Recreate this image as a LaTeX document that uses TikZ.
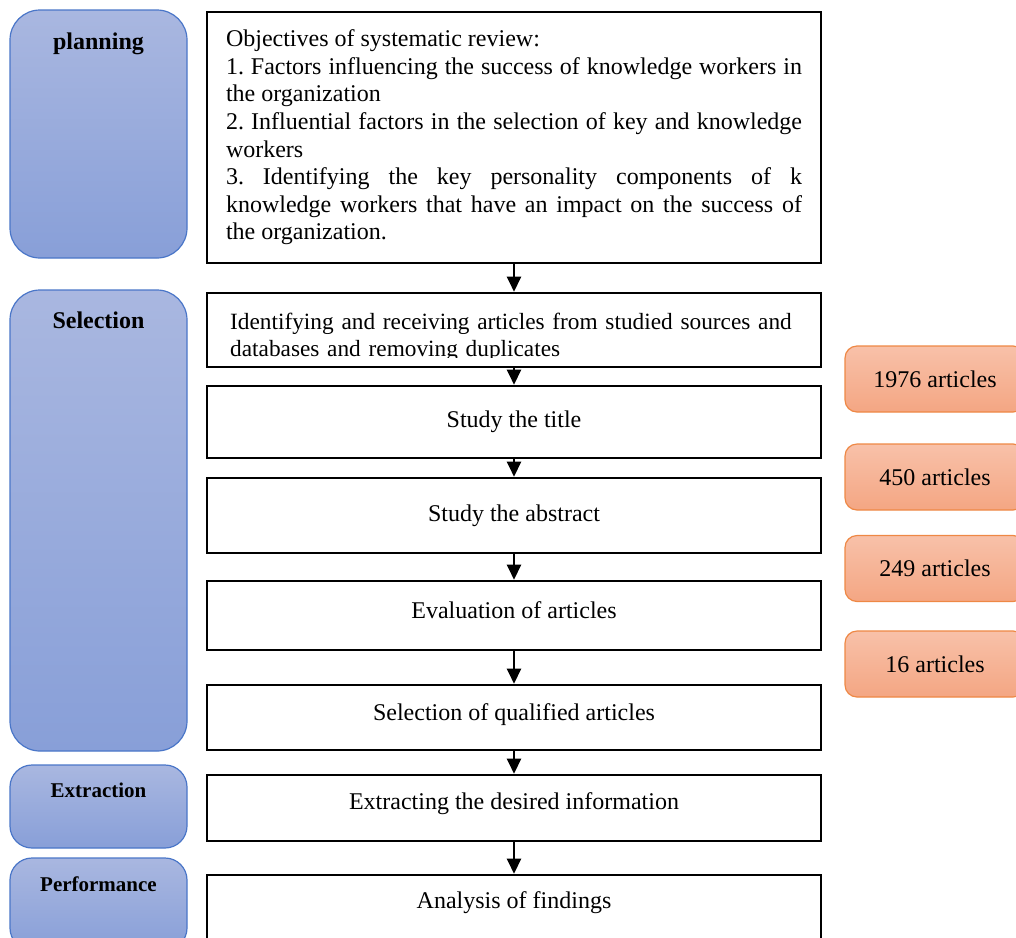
\documentclass[tikz,border=0pt]{standalone}
\usepackage{fontspec}
\setmainfont{Liberation Serif}
\usetikzlibrary{arrows.meta}
\setlength{\parindent}{0pt}
\frenchspacing
\definecolor{phasetop}{HTML}{A9B7E0}
\definecolor{phasebot}{HTML}{889FD8}
\definecolor{phaseline}{HTML}{4A76C8}
\definecolor{counttop}{HTML}{F8C1A9}
\definecolor{countbot}{HTML}{F4A683}
\definecolor{countline}{HTML}{EE8845}

\begin{document}
\begin{tikzpicture}[x=1pt,y=-1pt,
		stepbox/.style={draw=black,line width=2.6pt,minimum width=614pt,inner sep=0pt,font=\fontsize{24}{27.6}\selectfont},
		phasebox/.style={draw=phaseline,line width=1.2pt,rounded corners=30pt,top color=phasetop,bottom color=phasebot,minimum width=177pt},
		phasetitle/.style={font=\bfseries\fontsize{24}{27.6}\selectfont,anchor=north,inner sep=0pt},
		countbox/.style={draw=countline,line width=1.2pt,rounded corners=12pt,top color=counttop,bottom color=countbot,minimum width=180pt,minimum height=66pt,font=\fontsize{24}{27.6}\selectfont},
		flow/.style={line width=2.4pt,-{Triangle[length=15pt,width=14pt]}}]
				\useasboundingbox (0,0) rectangle (1016,937);
				\clip (0,0) rectangle (1016,937);
				% phases on the left
				\node[phasebox,minimum height=248pt] (plan) at (98.5,134) {};
				\node[phasebox,minimum height=461pt] (sel) at (98.5,520.5) {};
				\node[phasebox,minimum height=83pt,rounded corners=22pt] (extr) at (98.5,806.5) {};
				\node[phasebox,minimum height=92pt,rounded corners=22pt] (perf) at (98.5,904) {};
				\node[phasetitle] (tplan) at ([yshift=-23pt]plan.north) {planning};
				\node[phasetitle] (tsel) at ([yshift=-22pt]sel.north) {Selection};
				\node[phasetitle,font=\bfseries\fontsize{21}{24}\selectfont] (textr) at ([yshift=-18pt]extr.north) {Extraction};
				\node[phasetitle,font=\bfseries\fontsize{21}{24}\selectfont] (tperf) at ([yshift=-19pt]perf.north) {Performance};
				% steps
				\node[stepbox,minimum height=251pt,text width=576pt,align=justify] (obj) at (514,137.5) {Objectives of systematic review:\\
					1. Factors influencing the success of knowledge workers in\linebreak the organization\\
					2. Influential factors in the selection of key and knowledge\linebreak workers\\
					3. Identifying the key personality components of k\linebreak knowledge workers that have an impact on the success of\linebreak the organization.};
				\node[stepbox,minimum height=74pt] (ident) at (514,330) {};
				\begin{scope}
					\clip (209,295) rectangle (819,357);
					\node[anchor=north west,inner sep=0pt,text width=580pt,align=left,font=\fontsize{23.3}{26.8}\selectfont] (identtxt) at (230,313) {Identifying and receiving articles from studied sources and databases and removing duplicates};
				\end{scope}
				\node[stepbox,minimum height=72pt] (title) at (514,422) {Study the title};
				\node[stepbox,minimum height=75pt] (abstr) at (514,515.5) {Study the abstract};
				\node[stepbox,minimum height=69pt,text depth=10pt] (evalu) at (514,615.5) {Evaluation of articles};
				\node[stepbox,minimum height=65pt,text depth=11pt] (qual) at (514,717.5) {Selection of qualified articles};
				\node[stepbox,minimum height=66pt,text depth=13pt] (extract) at (514,808) {Extracting the desired information};
				\node[stepbox,minimum height=74pt,text depth=23pt] (anal) at (514,912) {Analysis of findings};
				\draw[flow] (obj) -- (ident);
				\draw[flow] (ident) -- (title);
				\draw[flow] (title) -- (abstr);
				\draw[flow] (abstr) -- (evalu);
				\draw[flow] (evalu) -- (qual);
				\draw[flow] (qual) -- (extract);
				\draw[flow] (extract) -- (anal);
				% article counts
				\node[countbox] (n1976) at (935,379) {1976 articles};
				\node[countbox] (n450) at (935,477) {450 articles};
				\node[countbox] (n249) at (935,568.5) {249 articles};
				\node[countbox] (n16) at (935,664) {16 articles};
			\end{tikzpicture}
\end{document}
